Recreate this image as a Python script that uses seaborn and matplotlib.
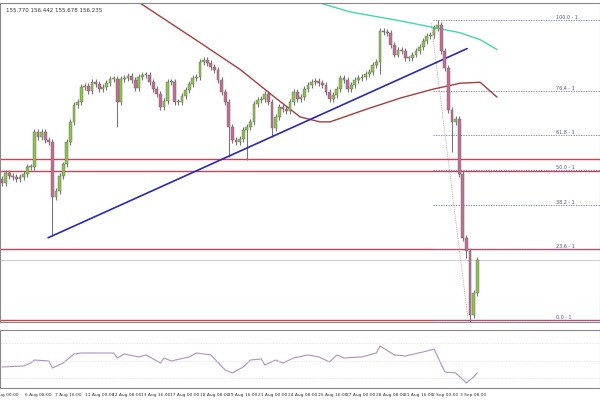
import numpy as np
import pandas as pd
import seaborn as sns
import matplotlib
matplotlib.use("Agg")
from matplotlib import pyplot as plt

# closes per candle (4h bars), open = previous close
closes = [157.01, 157.11, 157.08, 157.07, 157.05, 157.07, 157.10, 157.17, 157.17, 157.53,
          157.48, 157.53, 157.45, 157.43, 156.87, 156.93, 157.08, 157.20, 157.43, 157.63,
          157.80, 157.83, 157.98, 157.99, 157.94, 158.03, 158.01, 157.96, 157.98, 158.02,
          158.06, 158.06, 157.83, 158.06, 158.07, 158.09, 158.05, 157.97, 158.08, 158.10,
          158.10, 158.03, 157.96, 157.91, 157.78, 157.84, 158.03, 158.03, 157.83, 157.83,
          157.89, 157.95, 158.01, 158.07, 158.08, 158.23, 158.25, 158.22, 158.18, 158.15,
          158.05, 157.93, 157.83, 157.58, 157.45, 157.43, 157.46, 157.55, 157.58, 157.63,
          157.81, 157.85, 157.86, 157.91, 157.83, 157.57, 157.68, 157.78, 157.76, 157.74,
          157.83, 157.93, 157.86, 157.88, 157.96, 158.00, 158.03, 158.04, 158.02, 158.00,
          157.93, 157.86, 157.90, 157.96, 158.07, 158.05, 157.96, 158.00, 158.05, 158.07,
          158.08, 158.11, 158.13, 158.20, 158.23, 158.55, 158.54, 158.53, 158.41, 158.31,
          158.36, 158.35, 158.27, 158.27, 158.31, 158.35, 158.39, 158.45, 158.50, 158.51,
          158.58, 158.61, 158.35, 158.17, 157.75, 157.63, 157.66, 157.10, 156.46, 156.33,
          155.68, 155.90, 156.24]
first_open = 157.05
low_tails = {14: 156.48, 32: 157.58, 63: 157.28, 68: 157.25, 75: 157.48,
             105: 158.11, 125: 157.33, 129: 156.26, 130: 155.61}
high_tails = {121: 158.66}

brown_x = [38.3, 55.0, 66.1, 76.4, 82.8, 88.3, 91.1, 101.4, 110.6, 119.7, 127.2, 132.8, 137.5]
brown_y = [158.83, 158.43, 158.16, 157.86, 157.68, 157.63, 157.63, 157.76, 157.87, 157.96, 158.02, 158.03, 157.88]
cyan_x = [88.3, 96.7, 110.6, 118.9, 127.2, 132.8, 137.5]
cyan_y = [158.83, 158.74, 158.65, 158.59, 158.53, 158.46, 158.36]
trend_x = [12.8, 129.2]
trend_y = [156.46, 158.37]

fib_levels = [0.0, 23.6, 38.2, 50.0, 61.8, 76.4, 100.0]
fib_low, fib_high = 155.63, 158.66
red_levels = [157.26, 157.13, 156.35, 155.63]
last_price = 156.24

rsi_idx = [0, 6, 8, 9, 13, 14, 17, 20, 22, 25, 31, 32, 34, 38, 40, 44, 45, 47, 52, 54, 58,
           62, 64, 67, 69, 72, 73, 76, 78, 81, 85, 88, 91, 93, 95, 100, 104, 105, 109, 112,
           117, 120, 123, 126, 129, 131, 132]
rsi_val = [43.1, 44.3, 47.7, 51.1, 50.0, 42.0, 47.7, 58.0, 59.1, 59.1, 59.1, 53.4, 58.0,
           54.6, 56.9, 47.7, 53.4, 50.0, 54.6, 59.1, 56.9, 39.7, 36.3, 43.1, 51.1, 52.3,
           45.4, 51.1, 47.7, 53.4, 56.9, 54.6, 48.9, 56.9, 53.4, 54.6, 59.1, 67.1, 56.9,
           55.7, 60.3, 63.7, 37.4, 36.3, 24.9, 31.7, 36.3]

tick_idx = [-2.8, 6.4, 14.7, 23.0, 30.6, 38.6, 46.7, 55.0, 62.8, 71.0, 79.4, 87.8, 95.6,
            103.9, 111.7, 119.4, 127.2]
tick_lab = ["4 Aug 00:00", "6 Aug 08:00", "7 Aug 16:00", "11 Aug 00:00", "12 Aug 08:00",
            "13 Aug 16:00", "17 Aug 00:00", "18 Aug 08:00", "19 Aug 16:00", "21 Aug 00:00",
            "24 Aug 08:00", "25 Aug 16:00", "27 Aug 00:00", "28 Aug 08:00", "31 Aug 16:00",
            "2 Sep 00:00", "3 Sep 08:00"]

sns.set_theme(style="white")
plt.rcParams['font.family'] = ['DejaVu Sans']

fig = plt.figure(figsize=(6, 4), dpi=100)
ax = fig.add_axes([0, 78 / 400, 1, 319 / 400])
ax2 = fig.add_axes([0, 12 / 400, 1, 58 / 400])

opens = [first_open] + closes[:-1]
df = pd.DataFrame({"o": opens, "c": closes})
df["i"] = np.arange(len(df))
df["hi"] = [high_tails.get(i, max(o, c) + 0.03) for i, o, c in zip(df.i, df.o, df.c)]
df["lo"] = [low_tails.get(i, min(o, c) - 0.03) for i, o, c in zip(df.i, df.o, df.c)]
up = df.c >= df.o

ax.vlines(df.i, df.lo, df.hi, color="#777777", lw=0.8, zorder=2)
for mask, col in [(up, "#8cc34b"), (~up, "#c46d94")]:
    d = df[mask]
    ax.bar(d.i, (d.c - d.o).abs().clip(lower=0.01), bottom=np.minimum(d.o, d.c),
           width=0.8, color=col, edgecolor="#666666", linewidth=0.3, zorder=3)

for lv in red_levels:
    ax.axhline(lv, color="#d04050", lw=1.0, zorder=1)
ax.axhline(last_price, color="#c8c8c8", lw=0.6, zorder=1)

for f in fib_levels:
    p = fib_low + (fib_high - fib_low) * f / 100
    ax.hlines(p, 119.7, 166, color="#7070c0", lw=0.6, linestyles=(0, (1.5, 1.5)), zorder=1)
    ax.text(154, p, f"{f:.1f} - 1", fontsize=3.5, color="#5050a0", va="bottom")
ax.plot([119.2, 129.4], [158.63, 155.65], color="#c06060", lw=0.5, ls=":")

sns.lineplot(x=brown_x, y=brown_y, ax=ax, color="#a83c3c", lw=1.0, sort=False)
sns.lineplot(x=cyan_x, y=cyan_y, ax=ax, color="#40d8b0", lw=1.0, sort=False)
sns.lineplot(x=trend_x, y=trend_y, ax=ax, color="#2828c0", lw=1.2, sort=False)

ax.text(1, 158.78, "155.770 156.442 155.678 156.235", fontsize=4, va="top", color="#333333")
ax.set_xlim(-0.56, 166.1)
ax.set_ylim(155.61, 158.83)
ax.set_xticks([])
ax.set_yticks([])

sns.lineplot(x=rsi_idx, y=rsi_val, ax=ax2, color="#b090c0", lw=0.8)
for lv in [30, 50, 70]:
    ax2.axhline(lv, color="#dddddd", lw=0.5, ls=(0, (2, 2)))
ax2.set_xlim(-0.56, 166.1)
ax2.set_ylim(19.1, 85.4)
ax2.set_yticks([])
ax2.set_xticks([])
for xi, lab in zip(tick_idx, tick_lab):
    ax2.text(xi, -0.08, lab, fontsize=3.2, color="#333333", ha="left", va="top",
             transform=ax2.get_xaxis_transform(), clip_on=False)
for a in (ax, ax2):
    for s in a.spines.values():
        s.set_color("#888888")
        s.set_linewidth(0.8)

fig.savefig("out.png", dpi=100)
